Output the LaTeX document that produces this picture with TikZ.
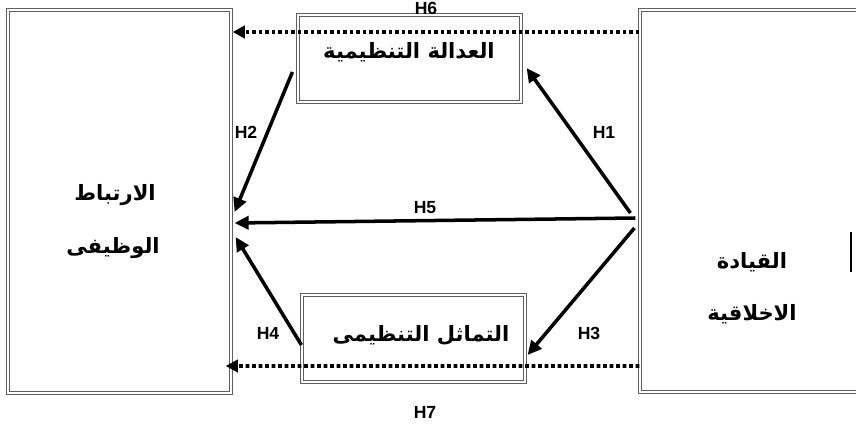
\documentclass[tikz,border=0pt]{standalone}
\usepackage{fontspec}
\usetikzlibrary{arrows.meta, positioning, calc}
\TeXXeTstate=1
\newfontfamily\arabicfont[Script=Arabic]{DejaVu Sans}
\newfontfamily\hfont{Liberation Sans}
\definecolor{boxgray}{RGB}{95,95,95}

\begin{document}
\begin{tikzpicture}[x=0.02cm, y=-0.02cm,
    dblbox/.style={draw=boxgray, double=white, double distance=1.1pt, line width=0.7pt, inner sep=0pt},
    hyparrow/.style={line width=2pt, -{Triangle[length=8pt,width=7.5pt]}},
    hypdots/.style={line width=2.1pt, dash pattern=on 2.1pt off 1.6pt, -{Triangle[length=7pt,width=7pt]}},
    hlabel/.style={font=\hfont\bfseries\fontsize{10}{11}\selectfont, inner sep=1pt},
    artext/.style={font=\arabicfont\bfseries\fontsize{12}{14}\selectfont, inner sep=1pt}]
    \useasboundingbox (0,0) rectangle (856,426);

    % Boxes
    \node[dblbox, minimum width=4.46cm, minimum height=7.66cm] (outcome) at (119.5,201.5) {};
    \node[dblbox, minimum width=4.5cm, minimum height=7.64cm] (leader) at (752.5,201) {};
    \node[dblbox, minimum width=4.46cm, minimum height=1.74cm] (justice) at (409.5,58.5) {};
    \node[dblbox, minimum width=4.46cm, minimum height=1.74cm] (ident) at (413.5,338.5) {};

    % Box texts
    \node[artext] (justicetxt) at (409,52) {\beginR العدالة التنظيمية\endR};
    \node[artext] (identtxt) at (421,335) {\beginR التماثل التنظيمى\endR};
    \node[artext] (outcome1) at (115,195) {\beginR الارتباط\endR};
    \node[artext] (outcome2) at (113,248) {\beginR الوظيفى\endR};
    \node[artext] (leader1) at (752,262) {\beginR القيادة\endR};
    \node[artext] (leader2) at (752,314) {\beginR الاخلاقية\endR};
    \draw[line width=0.8pt] (851,232) -- (851,272);

    % Arrow ends
    \coordinate (h1s) at ($(leader.west)+(-9,12)$);
    \coordinate (h1e) at ($(justice.east)+(5,9.5)$);
    \coordinate (h2s) at ($(justice.west)+(-5,13.5)$);
    \coordinate (h2e) at ($(outcome.east)+(3,10.5)$);
    \coordinate (h5s) at ($(leader.west)+(-4,17)$);
    \coordinate (h5e) at ($(outcome.east)+(3,21.5)$);
    \coordinate (h3s) at ($(leader.west)+(-5,27)$);
    \coordinate (h3e) at ($(ident.east)+(2,16.5)$);
    \coordinate (h4s) at ($(ident.west)+(0,6.5)$);
    \coordinate (h4e) at ($(outcome.east)+(4,35.5)$);
    \coordinate (h6s) at ($(leader.west)+(0,-169)$);
    \coordinate (h6e) at ($(outcome.east)+(1,-169.5)$);
    \coordinate (h7s) at ($(leader.west)+(0,165)$);
    \coordinate (h7e) at ($(outcome.east)+(-6,164.5)$);

    % Hypotheses
    \draw[hyparrow] (h1s) -- (h1e);
    \draw[hyparrow] (h2s) -- (h2e);
    \draw[hyparrow] (h5s) -- (h5e);
    \draw[hyparrow] (h3s) -- (h3e);
    \draw[hyparrow] (h4s) -- (h4e);
    \draw[hypdots] (h6s) -- (h6e);
    \draw[hypdots] (h7s) -- (h7e);

    % Labels
    \node[hlabel] (lh1) at (604,132) {H1};
    \node[hlabel] (lh2) at (246,132) {H2};
    \node[hlabel] (lh3) at (589,333) {H3};
    \node[hlabel] (lh4) at (268,333) {H4};
    \node[hlabel] (lh5) at (425,208) {H5};
    \node[hlabel] (lh6) at (426,8) {H6};
    \node[hlabel] (lh7) at (425,412) {H7};
\end{tikzpicture}
\end{document}
